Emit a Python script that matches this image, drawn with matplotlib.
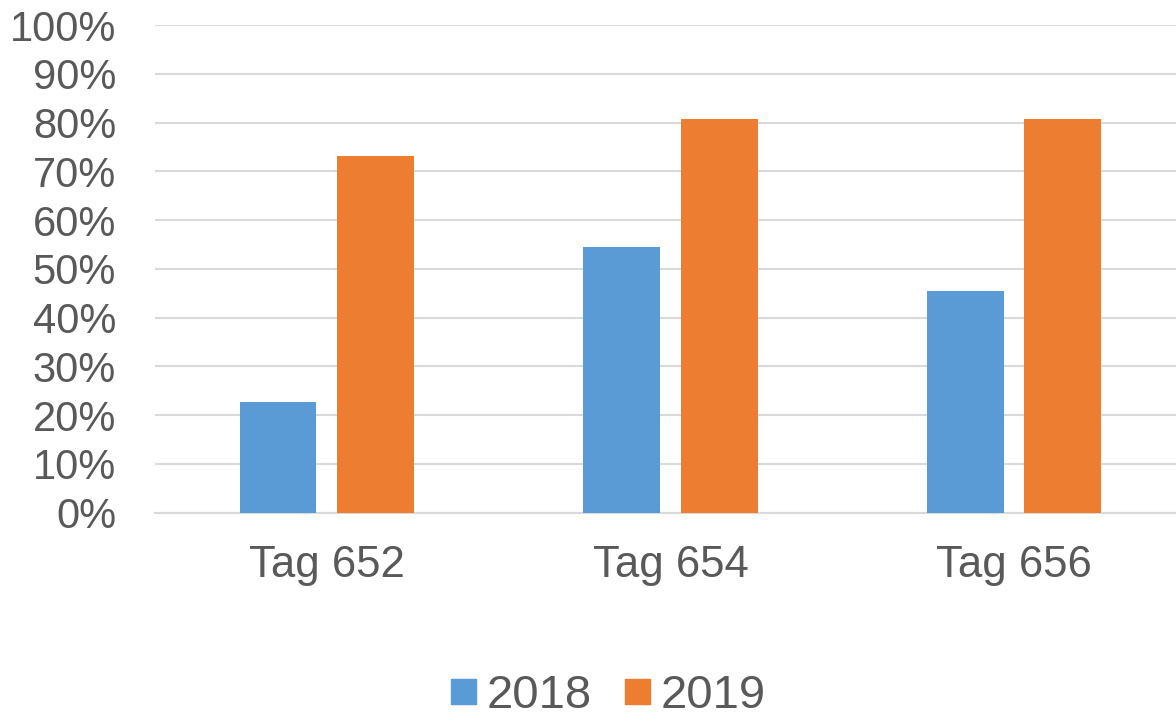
import numpy as np
import matplotlib
matplotlib.use("Agg")
import matplotlib.pyplot as plt
from matplotlib.ticker import PercentFormatter
from matplotlib.lines import Line2D

# data
categories = ["Tag 652", "Tag 654", "Tag 656"]
years = ["2018", "2019"]
values_2018 = [0.227, 0.545, 0.455]
values_2019 = [0.731, 0.808, 0.808]

blue = "#5B9BD5"
orange = "#ED7D31"
text_col = "#595959"
grid_col = "#D9D9D9"

plt.rcParams["font.family"] = ["Liberation Sans", "DejaVu Sans"]

fig = plt.figure(figsize=(11.76, 7.19), dpi=100)
ax = fig.add_axes([155 / 1176, (719 - 512.7) / 719, 1021 / 1176, 487.7 / 719])

x = np.arange(len(categories))
w = 0.224
off = 0.142
ax.bar(x - off, values_2018, w, color=blue, zorder=3)
ax.bar(x + off, values_2019, w, color=orange, zorder=3)

ax.set_xlim(-0.5, -0.5 + 1021 / 343.6)
ax.set_ylim(0, 1)
ax.set_yticks(np.arange(0, 1.01, 0.1))
ax.yaxis.set_major_formatter(PercentFormatter(1.0, decimals=0))
ax.set_xticks(x)
ax.set_xticklabels(categories)

ax.grid(axis="y", color=grid_col, linewidth=1.5, zorder=0)
ax.set_axisbelow(True)
for s in ["top", "right", "left"]:
    ax.spines[s].set_visible(False)
ax.spines["bottom"].set_color(grid_col)
ax.spines["bottom"].set_linewidth(1.5)
ax.spines["bottom"].set_zorder(1)

ax.tick_params(axis="y", length=0, pad=28, labelsize=30, labelcolor=text_col)
ax.tick_params(axis="x", length=0, pad=23, labelsize=31.5, labelcolor=text_col)

handles = [Line2D([], [], marker="s", linestyle="none", markersize=18, color=c)
           for c in (blue, orange)]
fig.legend(handles, years, loc="center", bbox_to_anchor=(606 / 1176, (719 - 696) / 719),
           ncol=2, frameon=False, fontsize=34, labelcolor=text_col,
           handletextpad=0.15, columnspacing=0.6, handlelength=0.7,
           borderpad=0.1)

fig.savefig("out.png", dpi=100)
